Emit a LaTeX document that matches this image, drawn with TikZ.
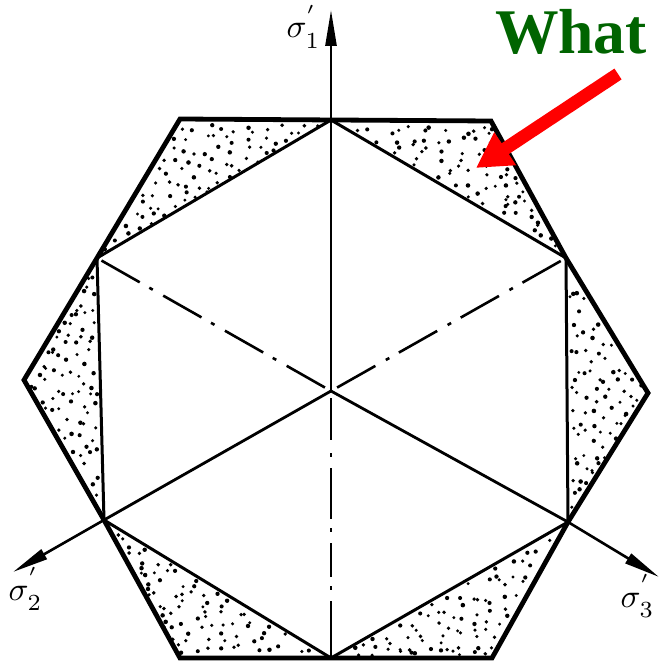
\documentclass[tikz,border=0pt]{standalone}
\usepackage[no-math]{fontspec}
\setmainfont{Liberation Serif}
\usetikzlibrary{arrows.meta,calc}
\definecolor{whatgreen}{RGB}{0,100,0}
% jittered grid of dots in a triangle, in barycentric steps
\newcommand{\dottri}[3]{%
  \foreach \ia in {0,...,11}{%
    \pgfmathtruncatemacro{\jmax}{11-\ia}%
    \foreach \ja in {0,...,\jmax}{%
      \pgfmathsetmacro{\ua}{(\ia+0.1+0.8*rnd)/12}%
      \pgfmathsetmacro{\ub}{(\ja+0.1+0.8*rnd)/12}%
      \pgfmathsetmacro{\uc}{(\ua+\ub>0.97)?\ua-0.03:\ua}%
      \pgfmathsetmacro{\ud}{(\ua+\ub>0.97)?\ub-0.03:\ub}%
      \pgfmathsetmacro{\ue}{0.03+0.95*\uc}%
      \pgfmathsetmacro{\uf}{0.03+0.95*\ud}%
      \pgfmathsetmacro{\ur}{1.6+0.7*rnd}%
      \fill[black] ($(#1)+\ue*($(#2)-(#1)$)+\uf*($(#3)-(#1)$)$) circle (\ur pt);
    }%
  }%
}
\tikzset{
  hexline/.style={line width=4.8pt,line join=miter},
  triline/.style={line width=3pt},
  axisline/.style={line width=2.6pt,-{Triangle[length=36pt,width=11pt]}},
  centerline/.style={line width=2.8pt},
  chain/.style={line width=2.6pt,dash pattern=on 0pt off 7pt on 44pt off 12pt on 4pt off 11pt on 44pt off 12pt on 4pt off 11pt on 44pt off 12pt on 4pt off 11pt on 44pt off 12pt},
  chainv/.style={line width=2.6pt,dash pattern=on 0pt off 7pt on 42pt off 13pt on 4pt off 11pt on 51pt off 9pt on 4pt off 11pt on 34pt off 9pt on 4pt off 11pt on 70pt off 10pt},
  pointer/.style={red,line width=13pt,-{Triangle[length=35pt,width=37pt]}},
  sigmalabel/.style={anchor=base west,inner sep=0pt,scale=3.3},
  whatlabel/.style={anchor=base,inner sep=0pt,text=whatgreen,font=\fontsize{63.6}{64}\selectfont\bfseries}
}
\newcommand{\sigmapr}[1]{$\sigma_{\raisebox{-0.8pt}{$\scriptstyle #1$}}^{\raisebox{3.4pt}{$\scriptscriptstyle\prime$}}$}
\begin{document}
\begin{tikzpicture}[x=1pt,y=-1pt]
\useasboundingbox (0,0) rectangle (659,661);
\coordinate (O) at (331,391);
\coordinate (T) at (331,120);
\coordinate (B) at (331,658);
\coordinate (UL) at (97,258);
\coordinate (UR) at (566,258);
\coordinate (LL) at (104,520);
\coordinate (LR) at (568,522);
\coordinate (h1) at (180,119);
\coordinate (h2) at (491,121);
\coordinate (h3) at (648,393);
\coordinate (h4) at (492,658);
\coordinate (h5) at (180,658);
\coordinate (h6) at (24,380);
\coordinate (tip1) at (331,10);
\coordinate (tip2) at (13,572);
\coordinate (tip3) at (659,577);
\coordinate (ra) at (618,74);
\coordinate (rb) at (476,168);

\pgfmathsetseed{4242}
\dottri{h1}{T}{UL}
\dottri{T}{h2}{UR}
\dottri{UR}{h3}{LR}
\dottri{LR}{h4}{B}
\dottri{B}{h5}{LL}
\dottri{LL}{h6}{UL}

\draw[triline] (T) -- (UL) -- (LL) -- (B) -- (LR) -- (UR) -- cycle;
\draw[centerline] (O) -- (LL);
\draw[centerline] (O) -- (LR);
\draw[axisline] (O) -- (tip1);
\draw[axisline] (LL) -- (tip2);
\draw[axisline] (LR) -- (tip3);
\draw[chain] (O) -- (UL);
\draw[chain] (O) -- (UR);
\draw[chainv] (O) -- (B);
\draw[hexline] (h1) -- (h2) -- (UR) -- (h3) -- (LR) -- (h4) -- (h5) -- (LL) -- (h6) -- (UL) -- cycle;

\node[sigmalabel] (s1) at (286,38) {\sigmapr{1}};
\node[sigmalabel] (s2) at (8,600) {\sigmapr{2}};
\node[sigmalabel] (s3) at (620,607) {\sigmapr{3}};
\node[whatlabel] (what) at (571,53) {What};
\draw[pointer] (ra) -- (rb);
\end{tikzpicture}
\end{document}
